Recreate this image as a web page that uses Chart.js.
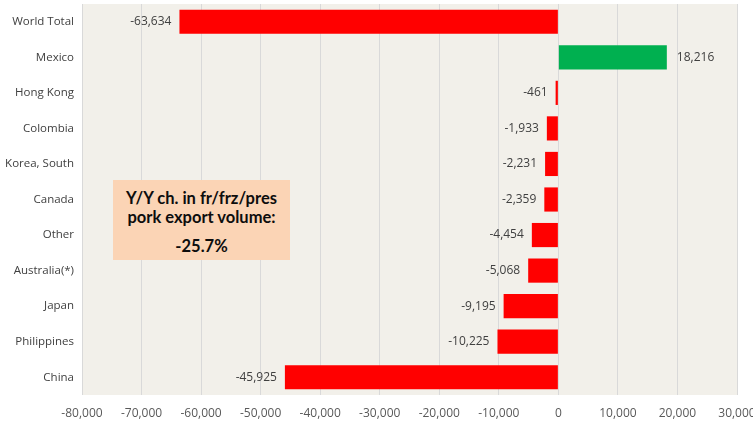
<!DOCTYPE html>
<html>
<head>
<meta charset="utf-8">
<script src="https://cdn.jsdelivr.net/npm/chart.js@4.4.1/dist/chart.umd.min.js"></script>
<style>
  body { margin: 0; background: #fff; }
  #wrap { position: relative; width: 753px; height: 426px; }
  #note {
    position: absolute; left: 113px; top: 180px; width: 177px; height: 80px;
    background: #FBD4B5; font-family: Lato, "Open Sans", sans-serif; font-weight: bold;
    font-size: 16.5px; color: #0d0d0d; text-align: center; line-height: 19px;
  }
  #note .l1 { padding-top: 9px; }
  #note .l3 { padding-top: 10px; }
</style>
</head>
<body>
<div id="wrap">
  <canvas id="pork" width="753" height="426"></canvas>
  <div id="note">
    <div class="l1">Y/Y ch. in fr/frz/pres</div>
    <div>pork export volume:</div>
    <div class="l3">-25.7%</div>
  </div>
</div>
<script>
const countries = ['World Total', 'Mexico', 'Hong Kong', 'Colombia', 'Korea, South', 'Canada', 'Other', 'Australia(*)', 'Japan', 'Philippines', 'China'];
const changes = [-63634, 18216, -461, -1933, -2231, -2359, -4454, -5068, -9195, -10225, -45925];
const xMin = -80000, xMax = 30000, xStep = 10000;

const fmt = v => v.toLocaleString('en-US');

// plot area background
const plotBg = {
  id: 'plotBg',
  beforeDraw(chart) {
    const { ctx, chartArea: a } = chart;
    ctx.save();
    ctx.fillStyle = '#F2F0EA';
    ctx.fillRect(a.left, a.top, a.right - a.left, a.bottom - a.top);
    ctx.restore();
  }
};

// value labels at the bar ends
const valueLabels = {
  id: 'valueLabels',
  afterDatasetsDraw(chart) {
    const { ctx } = chart;
    const meta = chart.getDatasetMeta(0);
    ctx.save();
    ctx.font = '12px "Open Sans", sans-serif';
    ctx.fillStyle = '#404040';
    ctx.textBaseline = 'middle';
    meta.data.forEach((bar, i) => {
      const v = changes[i];
      if (v < 0) {
        ctx.textAlign = 'right';
        ctx.fillText(fmt(v), bar.x - 8, bar.y);
      } else {
        ctx.textAlign = 'left';
        ctx.fillText(fmt(v), bar.x + 10, bar.y);
      }
    });
    ctx.restore();
  }
};

const noPad = s => { s.paddingLeft = s.paddingRight = s.paddingTop = s.paddingBottom = 0; };

new Chart(document.getElementById('pork'), {
  type: 'bar',
  data: {
    labels: countries,
    datasets: [{
      data: changes,
      backgroundColor: changes.map(v => v < 0 ? '#FF0000' : '#00B050'),
      barPercentage: 0.68,
      categoryPercentage: 1
    }]
  },
  options: {
    indexAxis: 'y',
    responsive: false,
    animation: false,
    layout: { padding: { top: 4, right: 16, left: 0, bottom: 0 } },
    plugins: { legend: { display: false }, tooltip: { enabled: false } },
    scales: {
      x: {
        min: xMin, max: xMax,
        ticks: {
          stepSize: xStep,
          callback: v => fmt(v),
          color: '#595959',
          font: { size: 12, family: '"Open Sans", sans-serif' },
          padding: 11
        },
        grid: { color: '#D9D9D9', drawTicks: false },
        border: { display: false },
        afterFit(s) { s.height = 31; noPad(s); }
      },
      y: {
        ticks: {
          color: '#404040',
          font: { size: 11.5, family: '"Open Sans", sans-serif' },
          padding: 8
        },
        grid: { display: false, drawTicks: false },
        border: { display: false },
        afterFit(s) { s.width = 82; noPad(s); }
      }
    }
  },
  plugins: [plotBg, valueLabels]
});
</script>
</body>
</html>
